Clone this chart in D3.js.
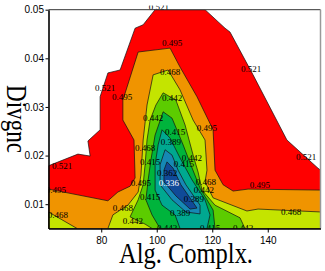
<!DOCTYPE html>
<html>
<head>
<meta charset="utf-8">
<script src="https://cdn.jsdelivr.net/npm/d3@7"></script>
<style>
  body { margin: 0; background: #fff; }
  svg { display: block; }
</style>
</head>
<body>
<svg id="chart" width="325" height="271"></svg>
<script>
// axis ticks
const xTicks = [80, 100, 120, 140];
const yTicks = [0.01, 0.02, 0.03, 0.04, 0.05];

// contour levels and the fill used below each level
const levels = [0.336, 0.362, 0.389, 0.415, 0.442, 0.468, 0.495, 0.521];
const levelColors = ["#104a98", "#1688b4", "#00a890", "#00b43c", "#5ccc00", "#c4e400", "#f09400", "#ff0000"];

// regions below each level as [Alg. Complx., Divgnc]
const below521 = [[61,0.0179],[71.6,0.0203],[76.0,0.0199],[75.2,0.0230],[79.6,0.0253],[79.6,0.0321],[82.4,0.0370],[86.8,0.0376],[92.2,0.0462],[95.1,0.0469],[99.4,0.05],[117.4,0.05],[124.6,0.0462],[126.4,0.0454],[134.7,0.0366],[146.9,0.0232],[158.1,0.0174],[159,0.0170],[159,0.005],[61,0.005]];
const below495 = [[61,0.0131],[82.4,0.0107],[86.0,0.0125],[90.4,0.0137],[92.2,0.0154],[91.8,0.0232],[87.8,0.0273],[87.8,0.0314],[93.3,0.0413],[104.8,0.0421],[108.4,0.0382],[114.5,0.0321],[120.3,0.0253],[121.0,0.0170],[123.9,0.0140],[127.5,0.0127],[132.9,0.0131],[159,0.0129],[159,0.005],[61,0.005]];
const below468a = [[61,0.0084],[71.3,0.005],[61,0.005]];
const below468b = [[82.4,0.005],[84.2,0.0078],[89.6,0.0098],[93.3,0.0125],[94.3,0.0160],[95.1,0.0232],[96.5,0.0304],[98.7,0.0366],[104.1,0.0376],[108.4,0.0335],[113.1,0.0273],[117.4,0.0232],[118.1,0.0170],[117.4,0.0146],[120.3,0.0113],[132.5,0.0086],[136.5,0.0090],[159,0.0084],[159,0.005]];
const below442 = [[102.3,0.0329],[106.9,0.0314],[110.2,0.0263],[113.1,0.0201],[114.9,0.0166],[116.3,0.0129],[121.0,0.0098],[130.0,0.0072],[131.8,0.005],[98.3,0.005],[95.8,0.0059],[90.4,0.0074],[93.3,0.0109],[95.1,0.0140],[95.8,0.0181],[96.5,0.0232],[97.6,0.0273],[99.7,0.0304]];
const below415 = [[102.3,0.0290],[105.5,0.0277],[109.5,0.0222],[112.0,0.0185],[115.6,0.0133],[120.3,0.0088],[121.0,0.005],[101.2,0.005],[98.3,0.0078],[96.1,0.0109],[96.9,0.0150],[97.9,0.0191],[99.4,0.0242]];
const below389 = [[101.9,0.0253],[104.8,0.0236],[108.4,0.0195],[112.7,0.0150],[117.4,0.0109],[119.2,0.0078],[118.1,0.005],[108.4,0.005],[106.6,0.0078],[101.9,0.0098],[99.4,0.0129],[99.4,0.0181],[100.5,0.0222]];
const below362 = [[103.0,0.0212],[105.5,0.0201],[107.7,0.0170],[110.5,0.0140],[115.6,0.0098],[115.6,0.0080],[110.5,0.0084],[105.5,0.0109],[101.2,0.0140],[101.2,0.0181]];
const below336 = [[103.7,0.0187],[105.9,0.0174],[108.7,0.0140],[114.5,0.0092],[112.0,0.0090],[106.9,0.0117],[102.6,0.0146],[102.6,0.0170]];

// contour labels [Alg. Complx., Divgnc, text]
const contourLabels = [
  [100.8,0.0506,"0.521"],[105.5,0.0432,"0.495"],[81.4,0.0339,"0.521"],[87.5,0.0321,"0.495"],
  [104.8,0.0372,"0.468"],[105.5,0.0318,"0.442"],[98.7,0.0277,"0.442"],[106.6,0.0249,"0.415"],
  [105.1,0.0228,"0.389"],[95.8,0.0216,"0.468"],[118.1,0.0257,"0.495"],[134.0,0.0378,"0.521"],
  [153.8,0.0197,"0.521"],[65.9,0.0179,"0.521"],[63.7,0.0129,"0.495"],[64.4,0.0078,"0.468"],
  [87.8,0.0092,"0.468"],[91.4,0.0065,"0.442"],[103.7,0.0051,"0.442"],[97.6,0.0187,"0.415"],
  [103.7,0.0164,"0.362"],[94.3,0.0144,"0.495"],[97.6,0.0115,"0.415"],[108.4,0.0082,"0.389"],
  [113.4,0.0111,"0.389"],[112.7,0.0195,"0.442"],[109.8,0.0183,"0.415"],[117.7,0.0146,"0.468"],
  [117.0,0.0129,"0.442"],[137.2,0.0140,"0.495"],[148.4,0.0084,"0.468"],[119.2,0.0051,"0.415"],
  [131.1,0.0051,"0.442"]
];
const coreLabel = [104.4, 0.0144, "0.336"];

const regions = [
  { level: 0.521, polys: [below521] },
  { level: 0.495, polys: [below495] },
  { level: 0.468, polys: [below468a, below468b] },
  { level: 0.442, polys: [below442] },
  { level: 0.415, polys: [below415] },
  { level: 0.389, polys: [below389] },
  { level: 0.362, polys: [below362] },
  { level: 0.336, polys: [below336] }
];

const x = d3.scaleLinear().domain([61, 159]).range([48.5, 320.5]);
const y = d3.scaleLinear().domain([0.005, 0.05]).range([228.5, 9.7]);
const fillFor = d3.scaleOrdinal().domain(levels).range(levelColors);

const svg = d3.select("#chart");

const defs = svg.append("defs");
defs.append("clipPath").attr("id", "plot")
  .append("rect").attr("x", 48.5).attr("y", 9.7).attr("width", 272).attr("height", 218.8);
defs.append("clipPath").attr("id", "labels")
  .append("rect").attr("x", 48.5).attr("y", 5.5).attr("width", 272).attr("height", 223);

const line = d3.line().x(d => x(d[0])).y(d => y(d[1]));

// filled bands, outermost first
svg.append("g").attr("clip-path", "url(#plot)")
  .selectAll("g")
  .data(regions)
  .join("g")
  .attr("fill", d => fillFor(d.level))
  .selectAll("path")
  .data(d => d.polys)
  .join("path")
  .attr("d", d => line(d) + "Z")
  .attr("stroke", "#111")
  .attr("stroke-width", 0.7)
  .attr("stroke-linejoin", "round");

// contour labels
const lab = svg.append("g").attr("clip-path", "url(#labels)")
  .style("font-family", "'Liberation Serif', 'Times New Roman', serif")
  .style("font-size", "9px");

lab.selectAll("text.cl")
  .data(contourLabels)
  .join("text")
  .attr("class", "cl")
  .attr("x", d => x(d[0]))
  .attr("y", d => y(d[1]))
  .attr("dy", "0.35em")
  .attr("text-anchor", "middle")
  .attr("fill", "#000")
  .text(d => d[2]);

lab.append("text")
  .attr("x", x(coreLabel[0]))
  .attr("y", y(coreLabel[1]))
  .attr("dy", "0.35em")
  .attr("text-anchor", "middle")
  .attr("fill", "#fff")
  .text(coreLabel[2]);

// frame: top and right
svg.append("line").attr("x1", 48.5).attr("x2", 320.5).attr("y1", 9.7).attr("y2", 9.7)
  .attr("stroke", "#333").attr("stroke-width", 1);
svg.append("line").attr("x1", 320.5).attr("x2", 320.5).attr("y1", 9.7).attr("y2", 228.5)
  .attr("stroke", "#999").attr("stroke-width", 1.5);

// axes
const xAxis = svg.append("g")
  .attr("transform", "translate(0,228.5)")
  .call(d3.axisBottom(x).tickValues(xTicks).tickSize(4).tickSizeOuter(0).tickPadding(4));
const yAxis = svg.append("g")
  .attr("transform", "translate(48.5,0)")
  .call(d3.axisLeft(y).tickValues(yTicks).tickFormat(d3.format(".2f")).tickSize(3).tickSizeOuter(0).tickPadding(1.5));

[xAxis, yAxis].forEach(a => {
  a.select(".domain").attr("stroke", "#000").attr("stroke-width", 1.6);
  a.selectAll(".tick line").attr("stroke", "#000");
  a.selectAll(".tick text")
    .style("font-family", "'Liberation Sans', Arial, sans-serif")
    .style("font-size", "10px")
    .attr("fill", "#000");
});

// axis titles
svg.append("text")
  .attr("x", 186).attr("y", 263)
  .attr("text-anchor", "middle")
  .attr("textLength", 134)
  .attr("lengthAdjust", "spacingAndGlyphs")
  .style("font-family", "'Liberation Serif', 'Times New Roman', serif")
  .style("font-size", "30px")
  .text("Alg. Complx.");

svg.append("text")
  .attr("transform", "translate(7,119) rotate(90)")
  .attr("text-anchor", "middle")
  .attr("textLength", 68)
  .attr("lengthAdjust", "spacingAndGlyphs")
  .style("font-family", "'Liberation Serif', 'Times New Roman', serif")
  .style("font-size", "30px")
  .text("Divgnc");
</script>
</body>
</html>
